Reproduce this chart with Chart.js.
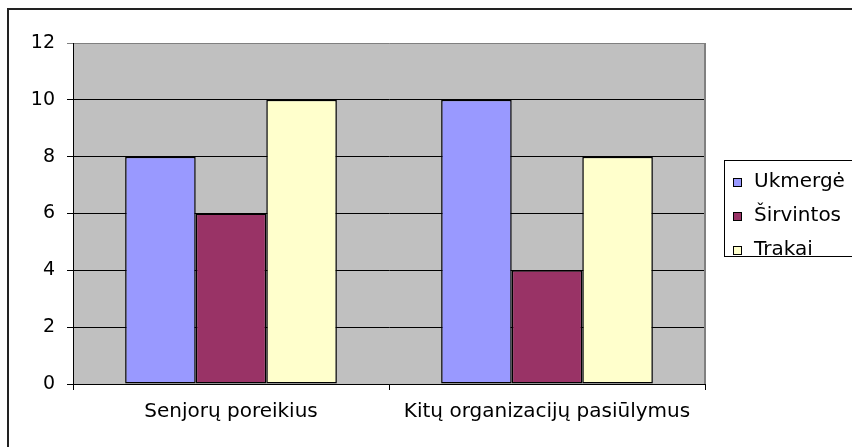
<!DOCTYPE html>
<html>
<head>
<meta charset="utf-8">
<script src="https://cdn.jsdelivr.net/npm/chart.js@4/dist/chart.umd.min.js"></script>
<style>
  html, body { margin: 0; padding: 0; background: #fff; }
  #wrap { width: 852px; height: 447px; position: relative; }
</style>
</head>
<body>
<div id="wrap"><canvas id="chart" width="852" height="447"></canvas></div>
<script>
  // Chart data
  const categories = ['Senjorų poreikius', 'Kitų organizacijų pasiūlymus'];
  const seriesNames = ['Ukmergė', 'Širvintos', 'Trakai'];
  const ukmerge = [8, 10];
  const sirvintos = [6, 4];
  const trakai = [10, 8];
  const yTicks = [0, 2, 4, 6, 8, 10, 12];

  const colors = ['#9999FF', '#993366', '#FFFFCC'];
  const FONT = 'DejaVu Sans';

  // Gray plot area, outer frame and boxed legend
  const frame = {
    id: 'frame',
    beforeDraw(chart) {
      const { ctx, chartArea: a } = chart;
      ctx.save();
      ctx.fillStyle = '#C0C0C0';
      ctx.fillRect(a.left, a.top, a.right - a.left, a.bottom - a.top);
      ctx.restore();
    },
    afterDraw(chart) {
      const { ctx, chartArea: a } = chart;
      ctx.save();
      // right edge of plot area
      ctx.strokeStyle = '#808080';
      ctx.lineWidth = 2;
      ctx.beginPath();
      ctx.moveTo(a.right, a.top);
      ctx.lineTo(a.right, a.bottom);
      ctx.stroke();
      // outer border (top and left only, image is cropped)
      ctx.strokeStyle = '#222';
      ctx.lineWidth = 2;
      ctx.beginPath();
      ctx.moveTo(852, 9);
      ctx.lineTo(8, 9);
      ctx.lineTo(8, 447);
      ctx.stroke();

      // legend box
      ctx.lineWidth = 1;
      ctx.strokeStyle = '#000';
      ctx.strokeRect(724.5, 160.5, 140, 96);
      ctx.font = '20px "' + FONT + '"';
      ctx.textBaseline = 'alphabetic';
      ctx.textAlign = 'left';
      chart.data.datasets.forEach((ds, i) => {
        const base = 187 + i * 34;
        ctx.fillStyle = ds.backgroundColor;
        ctx.fillRect(733, base - 9, 9, 9);
        ctx.strokeStyle = '#000';
        ctx.strokeRect(733.5, base - 8.5, 8, 8);
        ctx.fillStyle = '#000';
        ctx.fillText(ds.label, 754, base);
      });
      ctx.restore();
    }
  };

  const datasets = [ukmerge, sirvintos, trakai].map((vals, i) => ({
    label: seriesNames[i],
    data: vals,
    backgroundColor: colors[i],
    borderColor: '#000',
    borderWidth: 1.5,
    borderSkipped: false,
    categoryPercentage: 0.67,
    barPercentage: 1.0
  }));

  new Chart(document.getElementById('chart').getContext('2d'), {
    type: 'bar',
    data: { labels: categories, datasets },
    options: {
      responsive: false,
      animation: false,
      layout: { padding: { top: 43, right: 147, left: 0, bottom: 0 } },
      scales: {
        x: {
          grid: {
            display: true,
            drawOnChartArea: false,
            offset: true,
            tickLength: 6,
            color: '#000'
          },
          border: { display: true, color: '#000', width: 1 },
          ticks: {
            color: '#000',
            font: { family: FONT, size: 20 },
            padding: 10,
            maxRotation: 0
          },
          afterFit(scale) { scale.height = 63; }
        },
        y: {
          min: 0,
          max: 12,
          afterBuildTicks(scale) { scale.ticks = yTicks.map(v => ({ value: v })); },
          grid: {
            color: c => (c.tick && c.tick.value === 12 ? '#808080' : '#000'),
            tickLength: 6,
            lineWidth: 1
          },
          border: { display: true, color: '#000', width: 1 },
          ticks: {
            color: '#000',
            font: { family: FONT, size: 19 },
            padding: 12
          },
          afterFit(scale) { scale.width = 73; }
        }
      },
      plugins: {
        legend: { display: false },
        tooltip: { enabled: false }
      }
    },
    plugins: [frame]
  });
</script>
</body>
</html>
